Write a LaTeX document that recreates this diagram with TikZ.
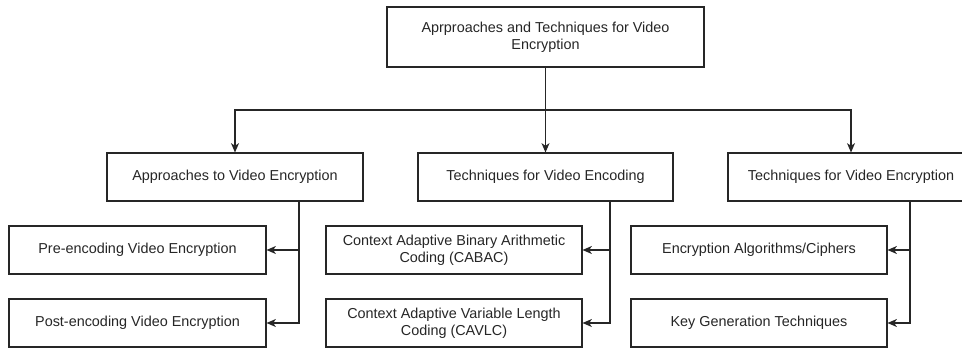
\documentclass[tikz,border=0pt]{standalone}
\usepackage{fontspec}
\setmainfont{Liberation Sans}
\usetikzlibrary{arrows.meta}
\begin{document}
\begin{tikzpicture}[x=0.75pt,y=-0.75pt,
  box/.style={draw=black!85, line width=0.8pt, fill=white, inner sep=0pt, align=center,
    font=\fontsize{10.8pt}{12.8pt}\selectfont, text=black!85, minimum height=36pt},
  arr/.style={draw=black!85, line width=0.8pt, -{Stealth[length=7pt,width=6pt,inset=2pt]}}]
\useasboundingbox[fill=white] (0,0) rectangle (962,349);
\clip (0,0) rectangle (962,349);
% top
\node[box, minimum width=237.75pt, minimum height=45pt] (top) at (545.5,37) {Aprproaches and Techniques for Video\\Encryption};
% middle row
\node[box, minimum width=192pt] (m1) at (235,177) {Approaches to Video Encryption};
\node[box, minimum width=191.25pt] (m2) at (545.5,177) {Techniques for Video Encoding};
\node[box, minimum width=184.5pt] (m3) at (851,177) {Techniques for Video Encryption};
% bottom rows
\node[box, minimum width=192.75pt] (a1) at (137.5,250) {Pre-encoding Video Encryption};
\node[box, minimum width=192.75pt] (a2) at (137.5,323) {Post-encoding Video Encryption};
\node[box, minimum width=192pt] (b1) at (454,250) {Context Adaptive Binary Arithmetic\\Coding (CABAC)};
\node[box, minimum width=192pt] (b2) at (454,323) {Context Adaptive Variable Length\\Coding (CAVLC)};
\node[box, minimum width=192pt] (c1) at (759,250) {Encryption Algorithms/Ciphers};
\node[box, minimum width=192pt] (c2) at (759,323) {Key Generation Techniques};
% junctions
\coordinate (hy) at (0,110);
\coordinate (j1) at (299,0);
\coordinate (j2) at (610,0);
\coordinate (j3) at (910,0);
% connectors from top
\draw[arr] (top.south) -- (m2.north);
\draw[arr] (top.south |- hy) -| (m1.north);
\draw[arr] (top.south |- hy) -| (m3.north);
% connectors to bottom rows
\draw[arr] (m1.south -| j1) |- (a1.east);
\draw[arr] (m1.south -| j1) |- (a2.east);
\draw[arr] (m2.south -| j2) |- (b1.east);
\draw[arr] (m2.south -| j2) |- (b2.east);
\draw[arr] (m3.south -| j3) |- (c1.east);
\draw[arr] (m3.south -| j3) |- (c2.east);
\end{tikzpicture}
\end{document}
